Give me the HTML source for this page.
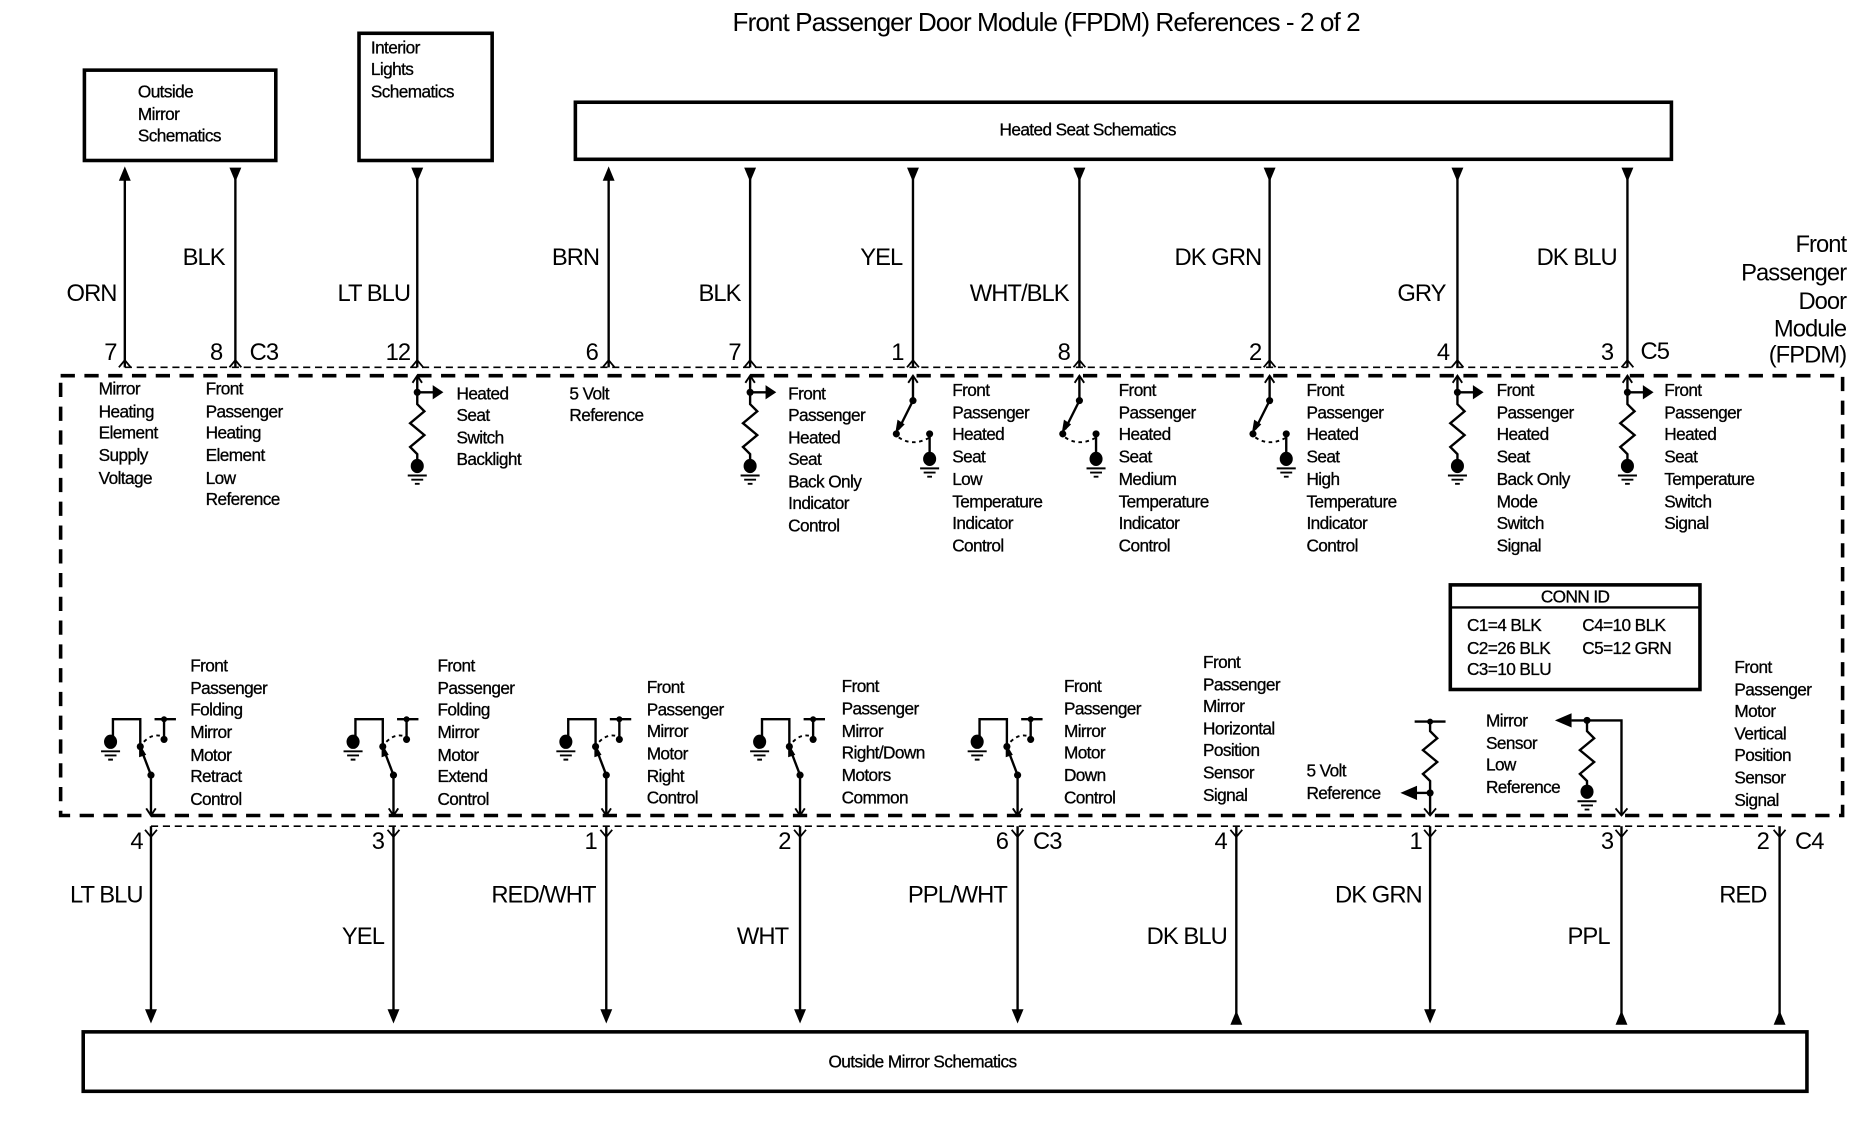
<!DOCTYPE html>
<html><head><meta charset="utf-8"><style>
html,body{margin:0;padding:0;background:#fff;}
svg{display:block;}
text{font-family:"Liberation Sans",sans-serif;fill:#000;}
.s{font-size:14.5px;letter-spacing:-0.5px;stroke:#000;stroke-width:0.25px;}
.w{font-size:20px;letter-spacing:-0.8px;}
</style></head><body>
<svg width="1864" height="1136" viewBox="0 0 1568 955.6" xmlns="http://www.w3.org/2000/svg">
<defs>
<g id="gnd"><ellipse cx="0" cy="0" rx="5.5" ry="6" fill="#000"/><path d="M-8 8H8M-5 11.5H5M-2 15H2" stroke="#000" stroke-width="1.6"/></g>
<g id="topres"><path d="M0 0V14" stroke="#000" stroke-width="2" fill="none"/><path d="M-4 6L0 0L4 6" stroke="#000" stroke-width="1.6" fill="none"/><circle cx="0" cy="14" r="3"/><path d="M0 14H14" stroke="#000" stroke-width="2"/><path d="M13 8L22 14L13 20Z"/><path d="M0 14V24L6 30L-6 40L6 50L-6 60L0 66V72" stroke="#000" stroke-width="2" fill="none"/><use href="#gnd" x="0" y="76"/></g>
<g id="topsw"><path d="M0 0V21" stroke="#000" stroke-width="2" fill="none"/><path d="M-4 6L0 0L4 6" stroke="#000" stroke-width="1.6" fill="none"/><circle cx="0" cy="21" r="3"/><path d="M0 21L-12 45" stroke="#000" stroke-width="2"/><path d="M-15 49L-13 37L-7 41Z"/><circle cx="-14" cy="49" r="3"/><path d="M-12 52Q0 60 14 52" stroke="#000" stroke-width="1.6" stroke-dasharray="3 3" fill="none"/><circle cx="14" cy="49" r="3"/><path d="M14 49V66" stroke="#000" stroke-width="2"/><use href="#gnd" x="14" y="70"/></g>
<g id="botsw"><path d="M0 0V-34" stroke="#000" stroke-width="2"/><path d="M-4 -6L0 0L4 -6" stroke="#000" stroke-width="1.6" fill="none"/><circle cx="0" cy="-34" r="3"/><path d="M0 -34L-8 -55" stroke="#000" stroke-width="2"/><path d="M-10 -61L-4 -51L-10 -49Z"/><circle cx="-9" cy="-58" r="3"/><path d="M-9 -58V-81H-32V-64" stroke="#000" stroke-width="2" fill="none"/><use href="#gnd" x="-34" y="-62"/><path d="M-6 -62Q2 -70 11 -66" stroke="#000" stroke-width="1.6" stroke-dasharray="3 3" fill="none"/><path d="M3 -81H21M11 -81V-64" stroke="#000" stroke-width="2"/><circle cx="11" cy="-81" r="2.5"/><circle cx="11" cy="-64" r="3"/></g>
<path id="au" d="M-5 12L0 0L5 12Z"/>
<path id="ad" d="M-5 0L0 12L5 0Z"/>
<path id="chev" d="M-5 6L0 0L5 6" stroke="#000" stroke-width="1.5" fill="none"/>
<path id="ychev" d="M-5 -6L0 0L5 -6" stroke="#000" stroke-width="1.5" fill="none"/>
</defs>

<text x="880" y="26" font-size="22" text-anchor="middle" letter-spacing="-0.8">Front Passenger Door Module (FPDM) References  - 2 of 2</text>

<g fill="none" stroke="#000" stroke-width="3">
<rect x="71" y="59" width="161" height="76"/>
<rect x="302" y="28" width="112" height="107"/>
<rect x="484" y="86" width="922" height="48"/>
<rect x="70" y="868" width="1450" height="50"/>
</g>
<text class="s" x="116" y="82">Outside</text><text class="s" x="116" y="101">Mirror</text><text class="s" x="116" y="119">Schematics</text>
<text class="s" x="312" y="45">Interior</text><text class="s" x="312" y="63">Lights</text><text class="s" x="312" y="82">Schematics</text>
<text class="s" x="915" y="114" text-anchor="middle">Heated Seat Schematics</text>
<text class="s" x="776" y="898" text-anchor="middle">Outside Mirror Schematics</text>

<rect x="51" y="316" width="1499" height="370" fill="none" stroke="#000" stroke-width="3" stroke-dasharray="12 8"/>
<path d="M105 309H1369" stroke="#000" stroke-width="1.3" stroke-dasharray="6 4"/>
<path d="M127 695H1497" stroke="#000" stroke-width="1.3" stroke-dasharray="6 4"/>

<g stroke="#000" stroke-width="2">
<path d="M105 150V309M198 150V309M351 150V309M512 150V309M631 150V309M768 150V309M908 150V309M1068 150V309M1226 150V309M1369 150V309"/>
</g>
<use href="#au" x="105" y="140"/><use href="#ad" x="198" y="141"/><use href="#ad" x="351" y="141"/><use href="#au" x="512" y="140"/><use href="#ad" x="631" y="141"/><use href="#ad" x="768" y="141"/><use href="#ad" x="908" y="141"/><use href="#ad" x="1068" y="141"/><use href="#ad" x="1226" y="141"/><use href="#ad" x="1369" y="141"/>
<g><use href="#chev" x="105" y="303"/><use href="#chev" x="198" y="303"/><use href="#chev" x="351" y="303"/><use href="#chev" x="512" y="303"/><use href="#chev" x="631" y="303"/><use href="#chev" x="768" y="303"/><use href="#chev" x="908" y="303"/><use href="#chev" x="1068" y="303"/><use href="#chev" x="1226" y="303"/><use href="#chev" x="1369" y="303"/></g>

<g class="w" text-anchor="end">
<text x="98" y="253">ORN</text><text x="189" y="223">BLK</text><text x="345" y="253">LT BLU</text><text x="504" y="223">BRN</text><text x="623" y="253">BLK</text><text x="759" y="223">YEL</text><text x="899" y="253">WHT/BLK</text><text x="1061" y="223">DK GRN</text><text x="1216" y="253">GRY</text><text x="1360" y="223">DK BLU</text>
<text x="98" y="303">7</text><text x="187" y="303">8</text><text x="345" y="303">12</text><text x="503" y="303">6</text><text x="623" y="303">7</text><text x="760" y="303">1</text><text x="900" y="303">8</text><text x="1061" y="303">2</text><text x="1219" y="303">4</text><text x="1357" y="303">3</text>
<text x="1553" y="212">Front</text><text x="1553" y="236">Passenger</text><text x="1553" y="260">Door</text><text x="1553" y="283">Module</text><text x="1553" y="305">(FPDM)</text>
</g>
<text class="w" x="210" y="303">C3</text><text class="w" x="1380" y="302">C5</text>

<use href="#topres" x="351" y="316"/><use href="#topres" x="631" y="316"/><use href="#topres" x="1226" y="316"/><use href="#topres" x="1369" y="316"/>
<use href="#topsw" x="768" y="316"/><use href="#topsw" x="908" y="316"/><use href="#topsw" x="1068" y="316"/>

<g class="s">
<text x="83" y="332">Mirror</text><text x="83" y="351">Heating</text><text x="83" y="369">Element</text><text x="83" y="388">Supply</text><text x="83" y="407">Voltage</text>
<text x="173" y="332">Front</text><text x="173" y="351">Passenger</text><text x="173" y="369">Heating</text><text x="173" y="388">Element</text><text x="173" y="407">Low</text><text x="173" y="425">Reference</text>
<text x="384" y="336">Heated</text><text x="384" y="354">Seat</text><text x="384" y="373">Switch</text><text x="384" y="391">Backlight</text>
<text x="479" y="336">5 Volt</text><text x="479" y="354">Reference</text>
<text x="663" y="336">Front</text><text x="663" y="354">Passenger</text><text x="663" y="373">Heated</text><text x="663" y="391">Seat</text><text x="663" y="410">Back Only</text><text x="663" y="428">Indicator</text><text x="663" y="447">Control</text>
<text x="801" y="333">Front</text><text x="801" y="352">Passenger</text><text x="801" y="370">Heated</text><text x="801" y="389">Seat</text><text x="801" y="408">Low</text><text x="801" y="427">Temperature</text><text x="801" y="445">Indicator</text><text x="801" y="464">Control</text>
<text x="941" y="333">Front</text><text x="941" y="352">Passenger</text><text x="941" y="370">Heated</text><text x="941" y="389">Seat</text><text x="941" y="408">Medium</text><text x="941" y="427">Temperature</text><text x="941" y="445">Indicator</text><text x="941" y="464">Control</text>
<text x="1099" y="333">Front</text><text x="1099" y="352">Passenger</text><text x="1099" y="370">Heated</text><text x="1099" y="389">Seat</text><text x="1099" y="408">High</text><text x="1099" y="427">Temperature</text><text x="1099" y="445">Indicator</text><text x="1099" y="464">Control</text>
<text x="1259" y="333">Front</text><text x="1259" y="352">Passenger</text><text x="1259" y="370">Heated</text><text x="1259" y="389">Seat</text><text x="1259" y="408">Back Only</text><text x="1259" y="427">Mode</text><text x="1259" y="445">Switch</text><text x="1259" y="464">Signal</text>
<text x="1400" y="333">Front</text><text x="1400" y="352">Passenger</text><text x="1400" y="370">Heated</text><text x="1400" y="389">Seat</text><text x="1400" y="408">Temperature</text><text x="1400" y="427">Switch</text><text x="1400" y="445">Signal</text>
</g>

<rect x="1220" y="492" width="210" height="88" fill="none" stroke="#000" stroke-width="3"/>
<path d="M1220 511H1430" stroke="#000" stroke-width="2"/>
<g class="s"><text x="1325" y="507" text-anchor="middle">CONN ID</text>
<text x="1234" y="531">C1=4 BLK</text><text x="1331" y="531">C4=10 BLK</text>
<text x="1234" y="550">C2=26 BLK</text><text x="1331" y="550">C5=12 GRN</text>
<text x="1234" y="568">C3=10 BLU</text></g>

<use href="#botsw" x="127" y="686"/><use href="#botsw" x="331" y="686"/><use href="#botsw" x="510" y="686"/><use href="#botsw" x="673" y="686"/><use href="#botsw" x="856" y="686"/>

<g stroke="#000" stroke-width="2" fill="none">
<path d="M1190 607H1216M1203 607V615L1209 621L1197 631L1209 641L1197 651L1203 657V686"/>
<path d="M1203 667H1190"/>
<path d="M1364 686V606H1322"/>
<path d="M1335 606V615L1341 621L1329 631L1341 641L1329 651L1335 657V662"/>
</g>
<circle cx="1203" cy="607" r="2.5"/><circle cx="1203" cy="667" r="3"/><path d="M1192 661L1178 667L1192 673Z"/>
<circle cx="1335" cy="606" r="3"/><path d="M1322 600L1308 606L1322 612Z"/><use href="#gnd" x="1335" y="666"/>
<use href="#ychev" x="1203" y="686"/><use href="#ychev" x="1364" y="686"/>

<g class="s">
<text x="160" y="565">Front</text><text x="160" y="584">Passenger</text><text x="160" y="602">Folding</text><text x="160" y="621">Mirror</text><text x="160" y="640">Motor</text><text x="160" y="658">Retract</text><text x="160" y="677">Control</text>
<text x="368" y="565">Front</text><text x="368" y="584">Passenger</text><text x="368" y="602">Folding</text><text x="368" y="621">Mirror</text><text x="368" y="640">Motor</text><text x="368" y="658">Extend</text><text x="368" y="677">Control</text>
<text x="544" y="583">Front</text><text x="544" y="602">Passenger</text><text x="544" y="620">Mirror</text><text x="544" y="639">Motor</text><text x="544" y="658">Right</text><text x="544" y="676">Control</text>
<text x="708" y="582">Front</text><text x="708" y="601">Passenger</text><text x="708" y="620">Mirror</text><text x="708" y="638">Right/Down</text><text x="708" y="657">Motors</text><text x="708" y="676">Common</text>
<text x="895" y="582">Front</text><text x="895" y="601">Passenger</text><text x="895" y="620">Mirror</text><text x="895" y="638">Motor</text><text x="895" y="657">Down</text><text x="895" y="676">Control</text>
<text x="1012" y="562">Front</text><text x="1012" y="581">Passenger</text><text x="1012" y="599">Mirror</text><text x="1012" y="618">Horizontal</text><text x="1012" y="636">Position</text><text x="1012" y="655">Sensor</text><text x="1012" y="674">Signal</text>
<text x="1099" y="653">5 Volt</text><text x="1099" y="672">Reference</text>
<text x="1250" y="611">Mirror</text><text x="1250" y="630">Sensor</text><text x="1250" y="648">Low</text><text x="1250" y="667">Reference</text>
<text x="1459" y="566">Front</text><text x="1459" y="585">Passenger</text><text x="1459" y="603">Motor</text><text x="1459" y="622">Vertical</text><text x="1459" y="640">Position</text><text x="1459" y="659">Sensor</text><text x="1459" y="678">Signal</text>
</g>

<g stroke="#000" stroke-width="2">
<path d="M127 695V850M331 695V850M510 695V850M673 695V850M856 695V850M1040 695V860M1203 695V850M1364 695V860M1497 695V860"/>
</g>
<g stroke="#000" stroke-width="1.5" fill="none">
<path d="M122 698L127 704L132 698M326 698L331 704L336 698M505 698L510 704L515 698M668 698L673 704L678 698M851 698L856 704L861 698M1035 698L1040 704L1045 698M1198 698L1203 704L1208 698M1359 698L1364 704L1369 698M1492 698L1497 704L1502 698"/>
</g>
<use href="#ad" x="127" y="849"/><use href="#ad" x="331" y="849"/><use href="#ad" x="510" y="849"/><use href="#ad" x="673" y="849"/><use href="#ad" x="856" y="849"/><use href="#au" x="1040" y="850"/><use href="#ad" x="1203" y="849"/><use href="#au" x="1364" y="850"/><use href="#au" x="1497" y="850"/>

<g class="w" text-anchor="end">
<text x="120" y="759">LT BLU</text><text x="323" y="794">YEL</text><text x="501" y="759">RED/WHT</text><text x="663" y="794">WHT</text><text x="847" y="759">PPL/WHT</text><text x="1032" y="794">DK BLU</text><text x="1196" y="759">DK GRN</text><text x="1354" y="794">PPL</text><text x="1486" y="759">RED</text>
<text x="120" y="714">4</text><text x="323" y="714">3</text><text x="502" y="714">1</text><text x="665" y="714">2</text><text x="848" y="714">6</text><text x="1032" y="714">4</text><text x="1196" y="714">1</text><text x="1357" y="714">3</text><text x="1488" y="714">2</text>
</g>
<text class="w" x="869" y="714">C3</text><text class="w" x="1510" y="714">C4</text>
</svg>
</body></html>
